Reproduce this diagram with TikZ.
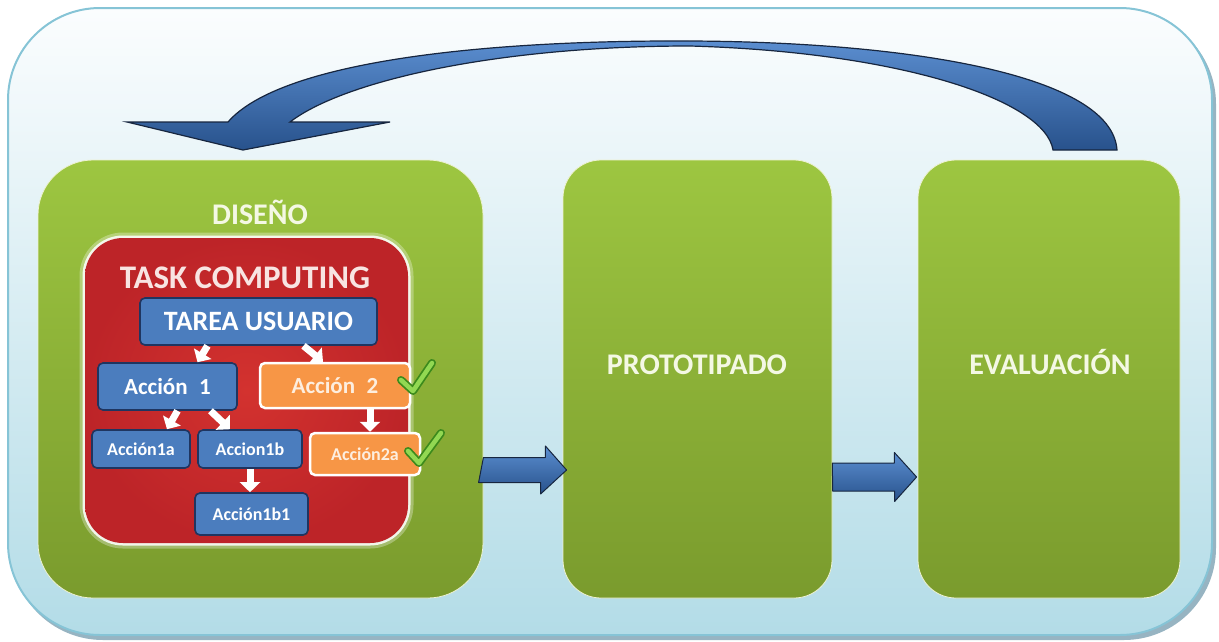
\documentclass[tikz,border=0pt]{standalone}
\usepackage{fontspec}
\setmainfont{Carlito}
\usetikzlibrary{arrows.meta,calc}

\definecolor{frameline}{HTML}{86C4D6}
\definecolor{frameshadow}{HTML}{97B4C2}
\definecolor{skytop}{HTML}{FBFDFE}
\definecolor{skybot}{HTML}{B3DCE7}
\definecolor{leaftop}{HTML}{9DC641}
\definecolor{leafbot}{HTML}{7A9B2D}
\definecolor{leafedge}{HTML}{EEF2D2}
\definecolor{brickout}{HTML}{BD2428}
\definecolor{brickin}{HTML}{D3322F}
\definecolor{steel}{HTML}{4B7DBE}
\definecolor{navy}{HTML}{1F3560}
\definecolor{tangerine}{HTML}{F79646}
\definecolor{arrowtop}{HTML}{5B8ED0}
\definecolor{arrowbot}{HTML}{28528C}
\definecolor{arrowline}{HTML}{17263F}
\definecolor{paletext}{HTML}{F4F8E4}
\definecolor{pinktext}{HTML}{F8E4E2}
\definecolor{creamtext}{HTML}{FDEEDF}
\definecolor{tickdark}{HTML}{3C8A1C}
\definecolor{ticklight}{HTML}{92D852}

\begin{document}
\begin{tikzpicture}[x=1pt,y=-1pt,
  stage/.style={rounded corners=#1, top color=leaftop, bottom color=leafbot,
    draw=leafedge, line width=0.8pt, inner sep=0pt},
  stage/.default=38pt,
  stagetext/.style={text=paletext, font=\bfseries\fontsize{30}{34}\selectfont},
  panel/.style={rounded corners=38pt, inner color=brickin, outer color=brickout,
    inner sep=0pt,
    preaction={draw=white, line width=11pt, opacity=0.3},
    preaction={draw=white, line width=5pt, opacity=0.85}},
  bluebox/.style={draw=navy, line width=1.6pt, fill=steel, rounded corners=5pt,
    text=white, inner sep=0pt},
  orangebox/.style={draw=white, line width=2.5pt, fill=tangerine, rounded corners=5pt,
    text=creamtext, inner sep=0pt},
  bigtext/.style={font=\bfseries\fontsize{28}{32}\selectfont},
  midtext/.style={font=\bfseries\fontsize{23}{27}\selectfont},
  smalltext/.style={font=\bfseries\fontsize{18}{21}\selectfont},
  warrow/.style={draw=white, line width=7pt, -{Triangle[width=20pt,length=10pt]}},
  blockarrow/.style={draw=arrowline, line width=1pt, line join=round,
    top color=arrowtop, bottom color=arrowbot},
  loopback/.style={draw=arrowline, line width=1.2pt, top color=arrowtop,
    bottom color=arrowbot},
  tick/.style={line cap=round, line join=round}
]
\useasboundingbox (0,0) rectangle (1219,641);

% rounded frame with its soft shadow
\fill[frameshadow, rounded corners=92pt] (11,12) rectangle (1216,640);
\draw[frameline, line width=2pt, rounded corners=92pt, top color=skytop,
  bottom color=skybot] (8,8) rectangle (1212,635);

% the three stages
\node[stage=55pt, minimum width=445pt, minimum height=438pt] (dis) at (260.5,379) {};
\node[stage, minimum width=269pt, minimum height=438pt] (pro) at (697.5,379) {};
\node[stage, minimum width=262pt, minimum height=438pt] (eva) at (1049,379) {};

\node[stagetext] (disl) at (260,212) {DISEÑO};
\node[stagetext] (prol) at (697,365) {PROTOTIPADO};
\node[stagetext] (eval) at (1050,362) {EVALUACIÓN};

% block arrows between the stages (tail on one stage, tip on the next)
\coordinate (b1) at ([yshift=-91pt]dis.east);
\coordinate (b2) at ([yshift=-98pt]pro.east);
\path[blockarrow] (b1) ++(0,-12.5) -- ++(62,0) -- ++(0,-11.5)
  -- ($(b1 -| pro.west)+(4,0)$) -- ++(-26,24) -- ++(0,-11.5) -- ++(-62,0) -- cycle;
\path[blockarrow] (b2) ++(0,-14) -- ++(62,0) -- ++(0,-10.5)
  -- ($(b2 -| eva.west)+(-1,0)$) -- ++(-22,24.5) -- ++(0,-10.5) -- ++(-62,0) -- cycle;

% curved arrow back from evaluation to design
\draw[loopback] (1117,150) -- (1053,150)
  .. controls (1045,100) and (900,52) .. (690,46)
  .. controls (500,46) and (345,80) .. (290,122)
  -- (390,122) -- (243,150) -- (127,122) -- (228,122)
  .. controls (280,62) and (480,40) .. (690,41)
  .. controls (910,42) and (1112,75) .. (1117,150) -- cycle;

% task computing panel
\node[panel, minimum width=323pt, minimum height=305pt] (tc) at (246.5,390.5) {};
\node[text=pinktext, font=\bfseries\fontsize{33}{37}\selectfont] (tcl) at (245,278) {TASK COMPUTING};

\node[bluebox, bigtext, minimum width=237pt, minimum height=47pt] (tarea) at (258.5,321.5) {TAREA USUARIO};
\node[bluebox, midtext, minimum width=139pt, minimum height=47pt] (a1) at (167.5,386.5) {Acción\enspace 1};
\node[orangebox, midtext, minimum width=150pt, minimum height=45pt] (a2) at (335,385.5) {Acción\enspace 2};
\node[bluebox, smalltext, minimum width=98pt, minimum height=38pt] (a1a) at (141,449) {Acción1a};
\node[bluebox, smalltext, minimum width=104pt, minimum height=38pt] (a1b) at (250,449) {Accion1b};
\node[orangebox, smalltext, minimum width=110pt, minimum height=42pt] (a2a) at (365,454) {Acción2a};
\node[bluebox, smalltext, minimum width=113pt, minimum height=42pt] (a1b1) at (251.5,514) {Acción1b1};

% white arrows inside the panel
\draw[warrow] ([xshift=-51pt]tarea.south) -- ([xshift=30pt]a1.north);
\draw[warrow] ([xshift=45pt]tarea.south) -- ([xshift=-12pt]a2.north);
\draw[warrow] ([xshift=10pt]a1.south) -- ([xshift=26pt]a1a.north);
\draw[warrow] ([xshift=43pt]a1.south) -- ([xshift=-20pt]a1b.north);
\draw[warrow] ([xshift=35pt]a2.south) -- ([xshift=5pt]a2a.north);
\draw[warrow] (a1b.south) -- (a1b.south |- a1b1.north);

% check marks on the finished actions
\draw[tick, tickdark, line width=8pt] (401,380) -- (413,391) -- (432,363);
\draw[tick, ticklight, line width=4.5pt] (401,380) -- (413,391) -- (432,363);
\draw[tick, tickdark, line width=8pt] (408,451) -- (419,463) -- (441,433);
\draw[tick, ticklight, line width=4.5pt] (408,451) -- (419,463) -- (441,433);
\end{tikzpicture}
\end{document}
